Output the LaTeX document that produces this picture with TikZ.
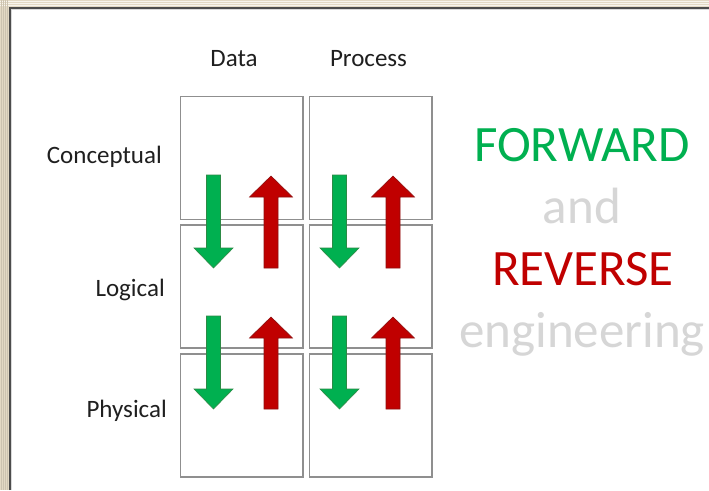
\documentclass[tikz,border=0pt]{standalone}
\usepackage{fontspec}
\setmainfont{Carlito}
\definecolor{fwdgreen}{HTML}{00B050}
\definecolor{fwdgreenline}{HTML}{2C8A45}
\definecolor{revred}{HTML}{C00000}
\definecolor{revredline}{HTML}{8E1010}
\definecolor{softgray}{HTML}{D6D6D6}
\definecolor{framebeige}{HTML}{E3D9C4}
\definecolor{cellline}{HTML}{8F8F8F}
\begin{document}
\begin{tikzpicture}[x=1pt,y=-1pt,
  cell/.style={draw=cellline, line width=1.5pt, fill=white, inner sep=0pt,
    minimum width=122.5pt, minimum height=123pt},
  lbl/.style={inner sep=0pt, font=\fontsize{25}{30}\selectfont, text=black!88},
  big/.style={inner sep=0pt, anchor=base, font=\fontsize{51}{61}\selectfont},
  downarrow/.pic={
    \filldraw[fill=fwdgreen, draw=fwdgreenline, line width=0.6pt, line join=miter]
      (-7,0) -- (7,0) -- (7,73) -- (19.5,73) -- (0,93) -- (-19.5,73) -- (-7,73) -- cycle;
  },
  uparrow/.pic={
    \filldraw[fill=revred, draw=revredline, line width=0.6pt, line join=miter]
      (0,0) -- (21.5,21) -- (7,21) -- (7,92) -- (-7,92) -- (-7,21) -- (-21.5,21) -- cycle;
  }]
\useasboundingbox (0,0) rectangle (709,490);

% textured frame and white slide area
\fill[framebeige] (0,0) rectangle (709,490);
\foreach \yy in {1.5,3.5,5.5} \draw[white!70!framebeige, line width=0.4pt] (0,\yy) -- (709,\yy);
\foreach \xx in {1.5,3.5,5.5,7.5} \draw[black!10!framebeige, line width=0.4pt] (\xx,0) -- (\xx,490);
\fill[white] (9,7) rectangle (709,490);
\draw[black!70, line width=1.6pt] (9.8,490) -- (9.8,7.8) -- (709,7.8);
\draw[black!15, line width=1pt] (11.5,490) -- (11.5,9.5) -- (709,9.5);

% column headers
\node[lbl, anchor=base] (hdata) at (234,66) {Data};
\node[lbl, anchor=base] (hproc) at (368.5,66) {Process};

% row labels
\node[lbl, anchor=base east] (rcon) at (162,163) {Conceptual};
\node[lbl, anchor=base east] (rlog) at (165,296) {Logical};
\node[lbl, anchor=base east] (rphy) at (167,417) {Physical};

% grid of cells
\node[cell] (d1) at (241.5,157.75) {};
\node[cell] (p1) at (370.75,157.75) {};
\node[cell] (d2) at (241.5,286.5) {};
\node[cell] (p2) at (370.75,286.5) {};
\node[cell] (d3) at (241.5,415.25) {};
\node[cell] (p3) at (370.75,415.25) {};

% forward (down) and reverse (up) arrows between levels
\pic at (213.5,175) {downarrow};
\pic at (271,176) {uparrow};
\pic at (339.5,175) {downarrow};
\pic at (393,176) {uparrow};
\pic at (213.5,316) {downarrow};
\pic at (271,317) {uparrow};
\pic at (339.5,316) {downarrow};
\pic at (393,317) {uparrow};

% title text
\node[big, text=fwdgreen] (tfwd) at (582,161) {FORWARD};
\node[big, text=softgray] (tand) at (582,223) {and};
\node[big, text=revred] (trev) at (583,285) {REVERSE};
\node[big, text=softgray] (teng) at (582,347) {engineering};
\end{tikzpicture}
\end{document}
